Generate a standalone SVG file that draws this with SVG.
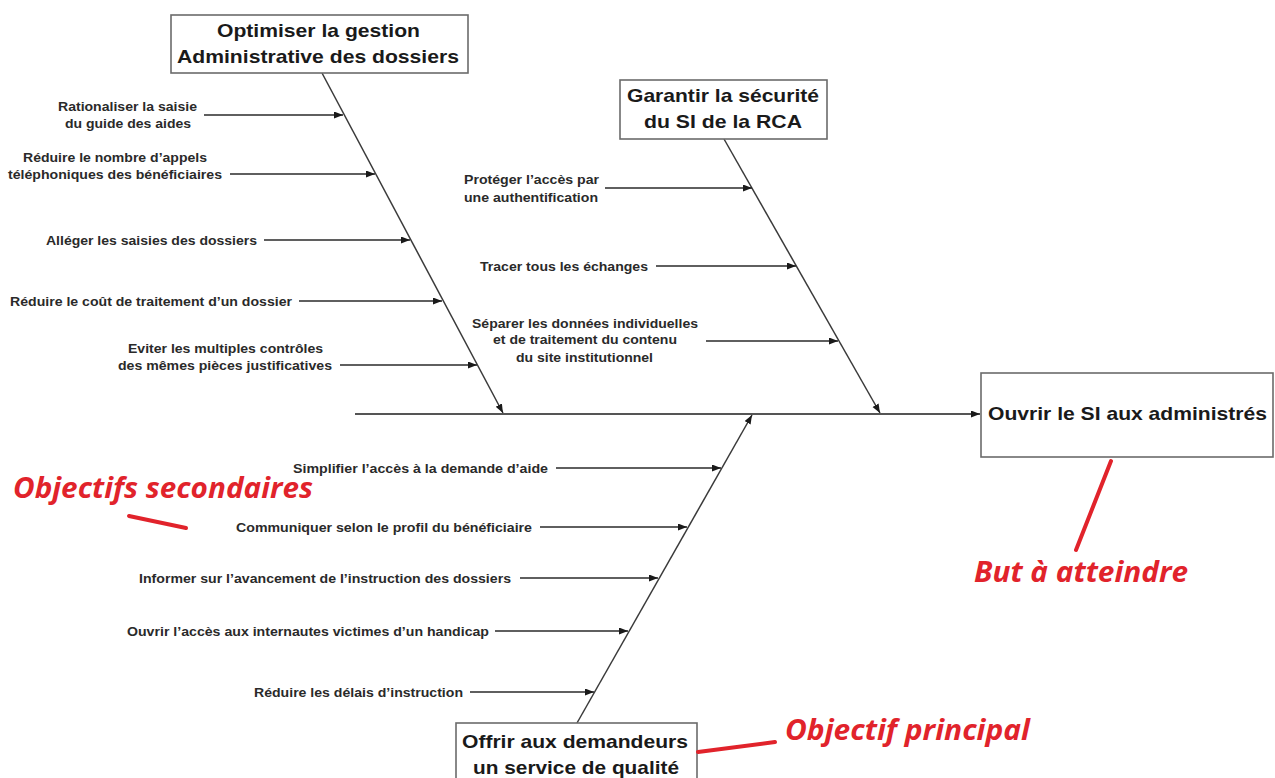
<svg xmlns="http://www.w3.org/2000/svg" width="1275" height="778" viewBox="0 0 1275 778">
<style>
.box{fill:#fff;stroke:#6b6b6b;stroke-width:1.6}
.title{font-family:"Liberation Sans",Arial,sans-serif;font-weight:bold;font-size:19px;fill:#1a1a1a}
.lbl{font-family:"Liberation Sans",Arial,sans-serif;font-weight:bold;font-size:13px;fill:#2a2a2a}
.arr{stroke:#2a2a2a;stroke-width:1.4;fill:none;marker-end:url(#ah)}
.spine{stroke:#3a3a3a;stroke-width:1.5;fill:none;marker-end:url(#ah)}
.main{stroke:#555;stroke-width:2.2;fill:none;marker-end:url(#ah)}
.red{font-family:"Open Sans","Noto Sans",sans-serif;font-weight:bold;font-style:italic;font-size:29px;fill:#e1232b}
.redline{stroke:#e1232b;stroke-width:4;stroke-linecap:round;fill:none}
</style>
<defs>
<marker id="ah" markerUnits="userSpaceOnUse" markerWidth="10" markerHeight="8" refX="9" refY="3.5" orient="auto">
<path d="M0,0 L9,3.5 L0,7 z" fill="#1a1a1a"/>
</marker>
</defs>
<rect width="1275" height="778" fill="#fff"/>

<g id="connectors">
<line class="main" x1="355" y1="414" x2="980" y2="414"/>
<line class="spine" x1="322" y1="73" x2="503" y2="413"/>
<line class="spine" x1="724" y1="139" x2="880" y2="413"/>
<line class="spine" x1="577" y1="723" x2="752" y2="415"/>
<line class="arr" x1="204" y1="115" x2="343" y2="115"/>
<line class="arr" x1="230" y1="174" x2="375" y2="174"/>
<line class="arr" x1="264" y1="240" x2="410" y2="240"/>
<line class="arr" x1="299" y1="301" x2="442" y2="301"/>
<line class="arr" x1="340" y1="365" x2="477" y2="365"/>
<line class="arr" x1="605" y1="188" x2="752" y2="188"/>
<line class="arr" x1="656" y1="266" x2="796" y2="266"/>
<line class="arr" x1="706" y1="341" x2="838" y2="341"/>
<line class="arr" x1="556" y1="468" x2="721" y2="468"/>
<line class="arr" x1="540" y1="527" x2="687" y2="527"/>
<line class="arr" x1="520" y1="578" x2="658" y2="578"/>
<line class="arr" x1="495" y1="631" x2="628" y2="631"/>
<line class="arr" x1="470" y1="692" x2="594" y2="692"/>
</g>

<g id="node-gestion">
<rect class="box" x="171" y="15" width="297" height="58"/>
<text class="title" x="217" y="37" textLength="203" lengthAdjust="spacingAndGlyphs">Optimiser la gestion</text>
<text class="title" x="177" y="63" textLength="282" lengthAdjust="spacingAndGlyphs">Administrative des dossiers</text>
</g>
<g id="node-securite">
<rect class="box" x="620" y="80" width="207" height="59"/>
<text class="title" x="627" y="102" textLength="192" lengthAdjust="spacingAndGlyphs">Garantir la sécurité</text>
<text class="title" x="644" y="128" textLength="158" lengthAdjust="spacingAndGlyphs">du SI de la RCA</text>
</g>
<g id="node-service">
<rect class="box" x="456" y="723" width="241" height="70"/>
<text class="title" x="462" y="748" textLength="226" lengthAdjust="spacingAndGlyphs">Offrir aux demandeurs</text>
<text class="title" x="473" y="774" textLength="206" lengthAdjust="spacingAndGlyphs">un service de qualité</text>
</g>
<g id="node-but">
<rect class="box" x="981" y="373" width="292" height="84"/>
<text class="title" x="988" y="420" textLength="279" lengthAdjust="spacingAndGlyphs">Ouvrir le SI aux administrés</text>
</g>

<g id="cause-rationaliser">
<text class="lbl" x="58" y="110.5" textLength="139" lengthAdjust="spacingAndGlyphs">Rationaliser la saisie</text>
<text class="lbl" x="65" y="127.5" textLength="126" lengthAdjust="spacingAndGlyphs">du guide des aides</text>
</g>
<g id="cause-appels">
<text class="lbl" x="23" y="161.5" textLength="184" lengthAdjust="spacingAndGlyphs">Réduire le nombre d’appels</text>
<text class="lbl" x="8" y="178.5" textLength="214" lengthAdjust="spacingAndGlyphs">téléphoniques des bénéficiaires</text>
</g>
<g id="cause-alleger">
<text class="lbl" x="46" y="244.5" textLength="211" lengthAdjust="spacingAndGlyphs">Alléger les saisies des dossiers</text>
</g>
<g id="cause-cout">
<text class="lbl" x="10" y="305.5" textLength="282" lengthAdjust="spacingAndGlyphs">Réduire le coût de traitement d’un dossier</text>
</g>
<g id="cause-controles">
<text class="lbl" x="128" y="352.5" textLength="195" lengthAdjust="spacingAndGlyphs">Eviter les multiples contrôles</text>
<text class="lbl" x="118" y="369.5" textLength="214" lengthAdjust="spacingAndGlyphs">des mêmes pièces justificatives</text>
</g>
<g id="cause-proteger">
<text class="lbl" x="464" y="183.5" textLength="135" lengthAdjust="spacingAndGlyphs">Protéger l’accès par</text>
<text class="lbl" x="464" y="201.5" textLength="134" lengthAdjust="spacingAndGlyphs">une authentification</text>
</g>
<g id="cause-tracer">
<text class="lbl" x="480" y="270.5" textLength="168" lengthAdjust="spacingAndGlyphs">Tracer tous les échanges</text>
</g>
<g id="cause-separer">
<text class="lbl" x="472" y="327.5" textLength="226" lengthAdjust="spacingAndGlyphs">Séparer les données individuelles</text>
<text class="lbl" x="493" y="343.5" textLength="184" lengthAdjust="spacingAndGlyphs">et de traitement du contenu</text>
<text class="lbl" x="516" y="361.5" textLength="137" lengthAdjust="spacingAndGlyphs">du site institutionnel</text>
</g>
<g id="cause-simplifier">
<text class="lbl" x="293" y="472.5" textLength="255" lengthAdjust="spacingAndGlyphs">Simplifier l’accès à la demande d’aide</text>
</g>
<g id="cause-communiquer">
<text class="lbl" x="236" y="531.5" textLength="296" lengthAdjust="spacingAndGlyphs">Communiquer selon le profil du bénéficiaire</text>
</g>
<g id="cause-informer">
<text class="lbl" x="139" y="582.5" textLength="372" lengthAdjust="spacingAndGlyphs">Informer sur l’avancement de l’instruction des dossiers</text>
</g>
<g id="cause-handicap">
<text class="lbl" x="127" y="635.5" textLength="362" lengthAdjust="spacingAndGlyphs">Ouvrir l’accès aux internautes victimes d’un handicap</text>
</g>
<g id="cause-delais">
<text class="lbl" x="254" y="696.5" textLength="209" lengthAdjust="spacingAndGlyphs">Réduire les délais d’instruction</text>
</g>

<g id="annotations">
<text class="red" x="13" y="498" textLength="300" lengthAdjust="spacingAndGlyphs">Objectifs secondaires</text>
<line class="redline" x1="129" y1="516" x2="186" y2="528" stroke-width="3.5"/>
<text class="red" x="785" y="740" textLength="245" lengthAdjust="spacingAndGlyphs">Objectif principal</text>
<line class="redline" x1="698" y1="752" x2="775" y2="742"/>
<text class="red" x="974" y="582" textLength="214" lengthAdjust="spacingAndGlyphs">But à atteindre</text>
<line class="redline" x1="1111" y1="461" x2="1076" y2="550"/>
</g>
</svg>
